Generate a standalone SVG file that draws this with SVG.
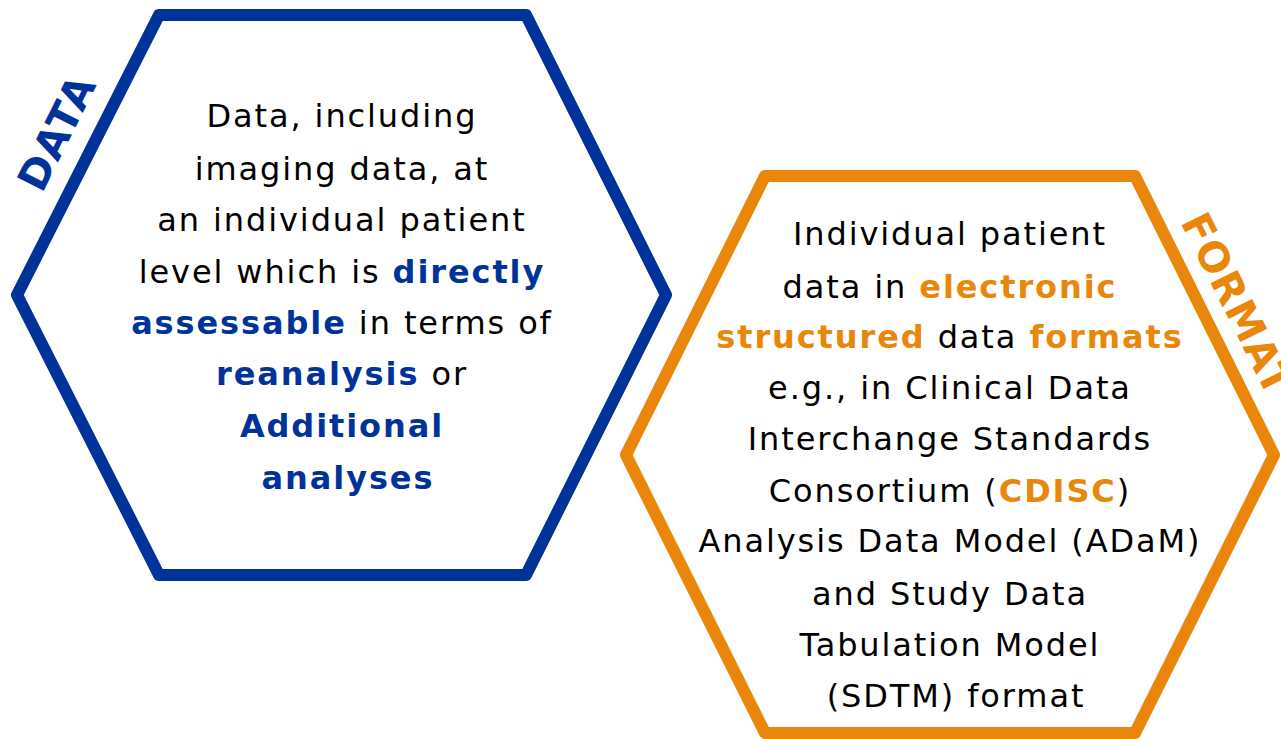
<svg xmlns="http://www.w3.org/2000/svg" width="1281" height="739" viewBox="0 0 1281 739">
  <style>
    .hex { fill: #ffffff; stroke-width: 12; stroke-linejoin: round; }
    .body { font-family: "DejaVu Sans", Verdana, sans-serif; font-size: 32px; letter-spacing: 1.9px; fill: #000000; text-anchor: middle; }
    .b { font-weight: bold; }
    .blue { fill: #003399; }
    .orange { fill: #E8870A; }
    .tag { font-family: "DejaVu Sans", Verdana, sans-serif; font-size: 41px; font-weight: bold; letter-spacing: 1px; }
  </style>
  <rect width="1281" height="739" fill="#ffffff"/>

  <g id="node-data">
    <polygon class="hex" stroke="#003399" points="159,15 526,15 666,295 526,575 159,575 17,295"/>
    <text class="tag blue" transform="translate(42,194) rotate(-63.4)">DATA</text>
    <text class="body">
      <tspan x="348" y="127">Data, including</tspan>
      <tspan x="348" y="180">imaging data, at</tspan>
      <tspan x="348" y="231">an individual patient</tspan>
      <tspan x="348" y="283">level which is <tspan class="b blue">directly</tspan></tspan>
      <tspan x="348" y="334"><tspan class="b blue">assessable</tspan> in terms of</tspan>
      <tspan x="348" y="385"><tspan class="b blue">reanalysis</tspan> or</tspan>
      <tspan x="348" y="437" class="b blue">Additional</tspan>
      <tspan x="348" y="489" class="b blue">analyses</tspan>
    </text>
  </g>

  <g id="node-format">
    <polygon class="hex" stroke="#E8870A" points="765,176 1135,176 1274,455 1135,733 765,733 626,455"/>
    <text class="tag orange" transform="translate(1180,222) rotate(63.4)">FORMAT</text>
    <text class="body">
      <tspan x="956" y="245">Individual patient</tspan>
      <tspan x="956" y="298">data in <tspan class="b orange">electronic</tspan></tspan>
      <tspan x="956" y="348"><tspan class="b orange">structured</tspan> data <tspan class="b orange">formats</tspan></tspan>
      <tspan x="956" y="399">e.g., in Clinical Data</tspan>
      <tspan x="956" y="450">Interchange Standards</tspan>
      <tspan x="956" y="502">Consortium (<tspan class="b orange">CDISC</tspan>)</tspan>
      <tspan x="956" y="552">Analysis Data Model (ADaM)</tspan>
      <tspan x="956" y="605">and Study Data</tspan>
      <tspan x="956" y="656">Tabulation Model</tspan>
      <tspan x="956" y="707">(SDTM) format</tspan>
    </text>
  </g>

  <g id="connectors"/>
</svg>
